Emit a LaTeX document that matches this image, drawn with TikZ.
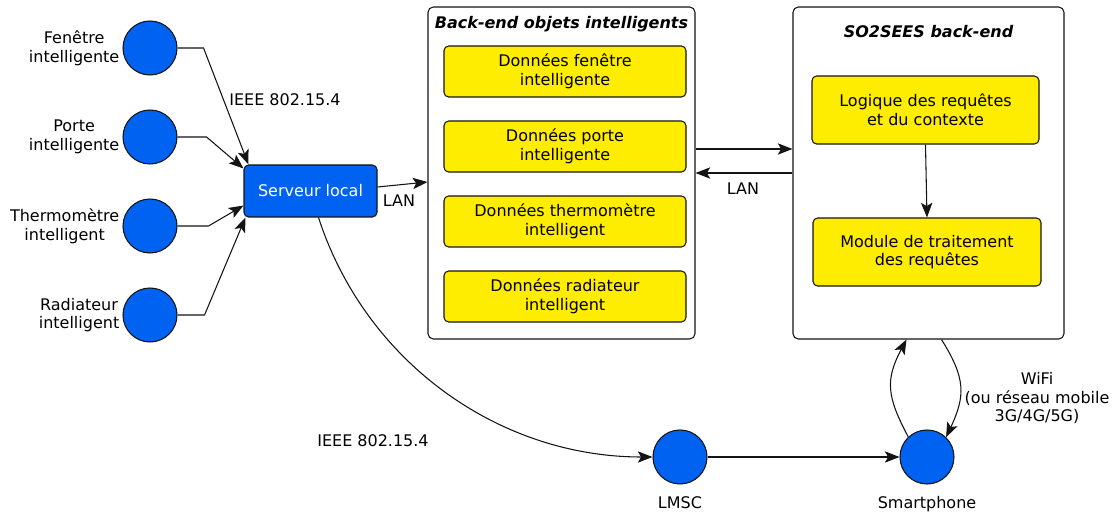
\documentclass[tikz,border=0pt]{standalone}
\usepackage{fontspec}
\setmainfont{DejaVu Sans}
\usepackage{xcolor}
\usepackage{tikz}
\usetikzlibrary{positioning, arrows.meta, calc}
\definecolor{IoTBlue}{RGB}{0,98,240}
\definecolor{IoTYellow}{RGB}{255,237,0}
\definecolor{IoTLine}{RGB}{20,20,20}

\begin{document}
\begin{tikzpicture}[x=0.75pt, y=-0.75pt,
      font=\fontsize{12}{14}\selectfont,
      line width=0.8pt,
      device/.style={circle, draw=IoTLine, fill=IoTBlue, minimum size=40.5pt, inner sep=0pt},
      devlbl/.style={align=center, inner sep=1pt},
      server/.style={rectangle, rounded corners=3.5pt, draw=IoTLine, fill=IoTBlue,
                     text=white, minimum width=99.75pt, minimum height=39pt},
      backend/.style={rectangle, rounded corners=4pt, draw=IoTLine, fill=white,
                      minimum width=200.25pt, minimum height=249pt},
      hdr/.style={font=\fontsize{12}{14}\selectfont\bfseries\itshape},
      datbox/.style={rectangle, rounded corners=3.5pt, draw=IoTLine, fill=IoTYellow,
                     minimum width=181.5pt, minimum height=38.25pt, align=center},
      link/.style={draw=IoTLine, -{Stealth[length=11pt, width=8.5pt, inset=2.5pt]}}
    ]
    \useasboundingbox (0,0) rectangle (1115,513);

    % Smart objects
    \node[device] (fen) at (150,48)  {};
    \node[device] (por) at (150,137) {};
    \node[device] (thm) at (150,226) {};
    \node[device] (rad) at (150,315) {};
    \node[devlbl, left=1pt of fen] (fenlbl) {Fenêtre\\intelligente};
    \node[devlbl, left=1pt of por] (porlbl) {Porte\\intelligente};
    \node[devlbl, left=1pt of thm] (thmlbl) {Thermomètre\\intelligent};
    \node[devlbl, left=1pt of rad] (radlbl) {Radiateur\\intelligent};

    % Local server
    \node[server] (srv) at (310.5,191) {Serveur local};
    \node (ieeetop) at (285,100) {IEEE 802.15.4};

    \draw[link] (fen.east) -- ++(26,0) -- ($(srv.north west)+(5,0)$);
    \draw[link] (por.east) -- ++(29,0) -- ($(srv.north west)+(0,4)$);
    \draw[link] (thm.east) -- ++(31,0) -- ($(srv.south west)+(0,-12)$);
    \draw[link] (rad.east) -- ++(27,0) -- ($(srv.south west)+(2,0)$);

    % Back-end objets intelligents
    \node[backend] (bo) at (561.5,173) {};
    \node[hdr] (bohdr) at (561.5,24) {Back-end objets intelligents};
    \node[datbox] (dfen) at (565,71.5)  {Données fenêtre\\intelligente};
    \node[datbox] (dpor) at (565,146.5) {Données porte\\intelligente};
    \node[datbox] (dthm) at (565,221.5) {Données thermomètre\\intelligent};
    \node[datbox] (drad) at (565,296.5) {Données radiateur\\intelligent};

    \draw[link] ($(srv.east)+(0,-4)$) -- ($(bo.west)+(0,9)$);
    \node (lan1) at (399,201) {LAN};

    % SO2SEES back-end
    \node[backend, minimum width=203.25pt] (so2) at (928.5,173) {};
    \node[hdr] (so2hdr) at (928.5,32) {SO2SEES back-end};
    \node[datbox, minimum width=170.25pt, minimum height=51pt] (logq) at (925.5,110)
          {Logique des requêtes\\et du contexte};
    \node[datbox, minimum width=171pt, minimum height=51pt] (modq) at (927,252)
          {Module de traitement\\des requêtes};
    \draw[link] (logq.south) -- (modq.north);

    \draw[link] ($(bo.east)+(0,-24)$) -- ($(so2.west)+(0,-24)$);
    \draw[link] (so2.west) -- (bo.east);
    \node (lan2) at (743,189) {LAN};

    % Mobile side
    \node[device] (lmsc) at (680,457) {};
    \node[device] (phone) at (927,457) {};
    \node[below=5pt of lmsc] (lmsclbl) {LMSC};
    \node[below=5pt of phone] (phonelbl) {Smartphone};

    \draw[link] ($(srv.south)+(8,0)$) to[out=-72, in=180, looseness=0.95] (lmsc.west);
    \node (ieeebot) at (373,441) {IEEE 802.15.4};
    \draw[link] (lmsc.east) -- (phone.west);

    \draw[link] (phone.133) to[out=118, in=-118, looseness=1.2] ($(so2.south)+(-22,0)$);
    \draw[link] ($(so2.south)+(13,0)$) to[out=-58, in=65, looseness=1.2] (phone.46);
    \node[align=center] (wifi) at (1037,398) {WiFi\\(ou réseau mobile\\3G/4G/5G)};
\end{tikzpicture}
\end{document}
